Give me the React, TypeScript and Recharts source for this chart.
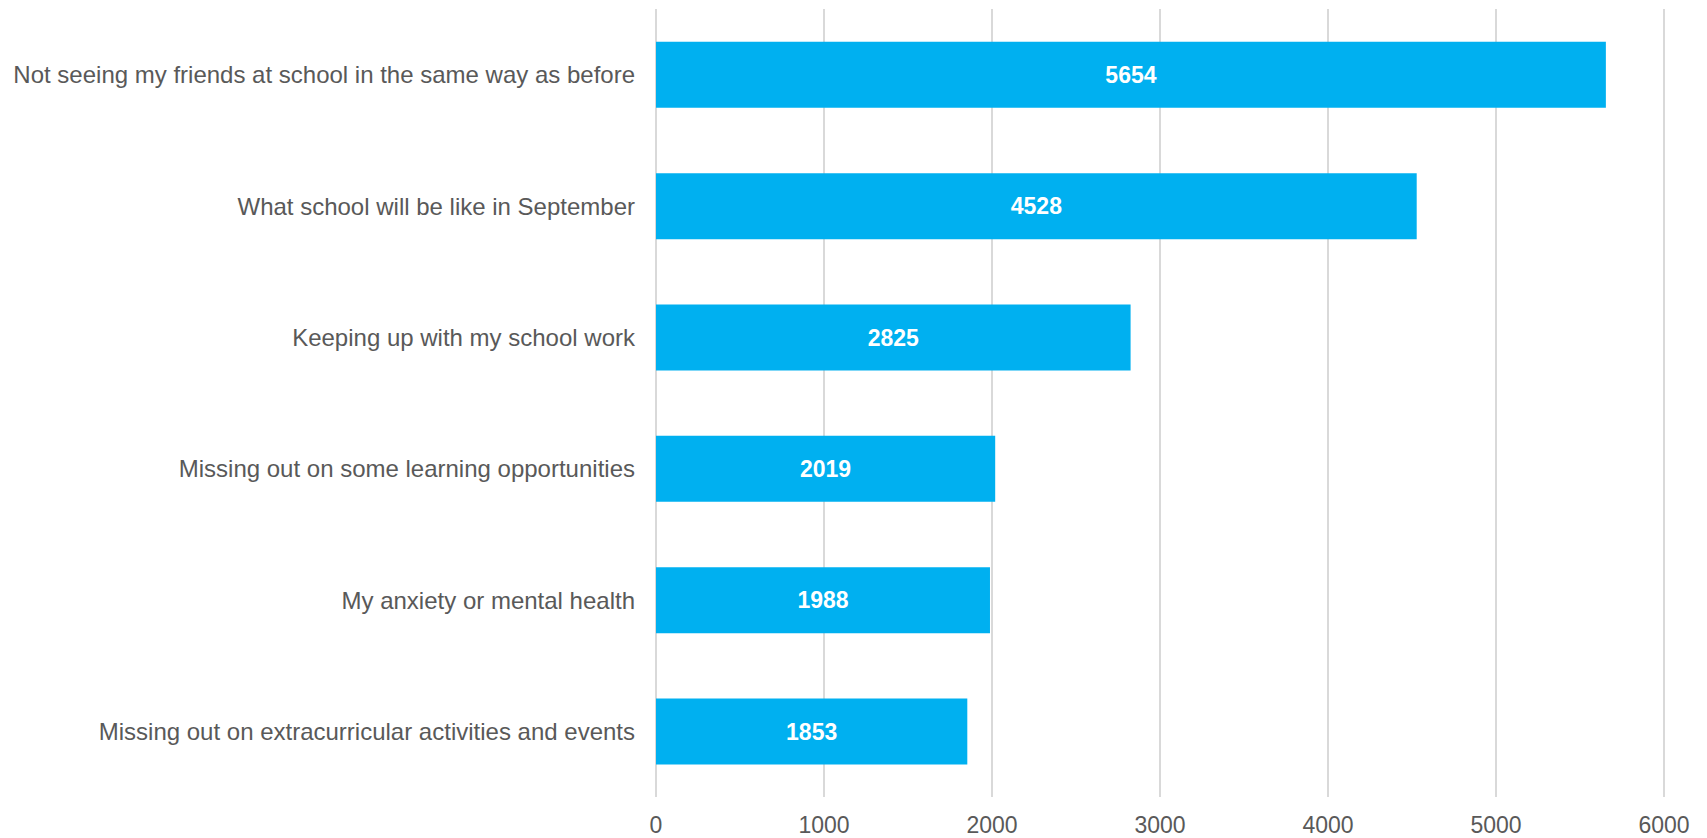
import React from "react";
import { BarChart, Bar, XAxis, YAxis, CartesianGrid, LabelList } from "recharts";

const categories = [
  "Not seeing my friends at school in the same way as before",
  "What school will be like in September",
  "Keeping up with my school work",
  "Missing out on some learning opportunities",
  "My anxiety or mental health",
  "Missing out on extracurricular activities and events",
];
const values = [5654, 4528, 2825, 2019, 1988, 1853];
const xTicks = [0, 1000, 2000, 3000, 4000, 5000, 6000];

const data = categories.map((c, i) => ({ name: c, value: values[i] }));

const FONT = "'Liberation Sans', Arial, sans-serif";

export default function App() {
  return (
    <div style={{ position: "absolute", left: 0, top: 0, fontFamily: FONT }}>
      <BarChart
        width={1707}
        height={838}
        data={data}
        layout="vertical"
        margin={{ top: 9, right: 43, bottom: 0, left: 0 }}
        barCategoryGap="25%"
      >
        <CartesianGrid horizontal={false} vertical={true} stroke="#D9D9D9" strokeWidth={2} />
        <XAxis
          type="number"
          domain={[0, 6000]}
          ticks={xTicks}
          axisLine={false}
          tickLine={false}
          tickSize={0}
          tickMargin={20}
          height={41}
          tick={{ fill: "#595959", fontSize: 23, fontFamily: FONT }}
          interval={0}
        />
        <YAxis
          type="category"
          dataKey="name"
          width={656}
          axisLine={false}
          tickLine={false}
          tickSize={0}
          tickMargin={21}
          interval={0}
          tick={{ fill: "#595959", fontSize: 24, fontFamily: FONT }}
        />
        <Bar dataKey="value" fill="#00B0F0" isAnimationActive={false}>
          <LabelList
            dataKey="value"
            position="center"
            fill="#FFFFFF"
            style={{ fontWeight: "bold", fontSize: 23, fontFamily: FONT }}
          />
        </Bar>
      </BarChart>
    </div>
  );
}
